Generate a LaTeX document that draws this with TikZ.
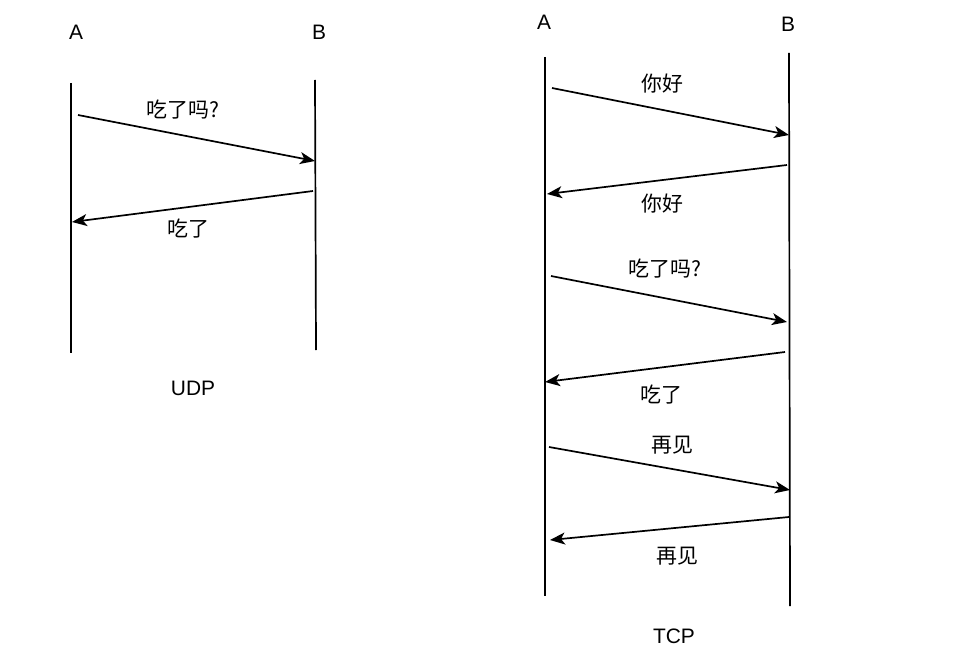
\documentclass[tikz,border=0pt]{standalone}
\usepackage{fontspec}
\setmainfont{Liberation Sans}
\newfontfamily\cjk{Noto Sans CJK SC}
\usetikzlibrary{arrows.meta}
\begin{document}
\begin{tikzpicture}[x=1bp,y=-1bp,
  life/.style={line width=1.7bp},
  msg/.style={line width=1.7bp,-{Stealth[length=15bp,width=12bp,inset=4bp]}},
  lbl/.style={inner sep=0pt,font=\fontsize{21}{24}\selectfont},
  clbl/.style={inner sep=0pt,font=\cjk\fontsize{21}{24}\selectfont}]
\useasboundingbox (0,0) rectangle (970,663);
% UDP
\node[lbl] (ua) at (76,32) {A};
\node[lbl] (ub) at (319,32) {B};
\coordinate (uat) at (71,83); \coordinate (uab) at (71,353);
\coordinate (ubt) at (315,80); \coordinate (ubb) at (316,350);
\draw[life] (uat) -- (uab);
\draw[life] (ubt) -- (ubb);
\coordinate (u1s) at (78,115); \coordinate (u1e) at (315,161);
\coordinate (u2s) at (313,191); \coordinate (u2e) at (72,222);
\draw[msg] (u1s) -- (u1e);
\draw[msg] (u2s) -- (u2e);
\node[clbl] (ul1) at (183,110) {吃了吗?};
\node[clbl] (ul2) at (188,229) {吃了};
\node[lbl] (udp) at (193,388) {UDP};
% TCP
\node[lbl] (ta) at (544,22) {A};
\node[lbl] (tb) at (788,24) {B};
\coordinate (tat) at (545,57); \coordinate (tab) at (545,596);
\coordinate (tbt) at (789,53); \coordinate (tbb) at (790,606);
\draw[life] (tat) -- (tab);
\draw[life] (tbt) -- (tbb);
\coordinate (t1s) at (552,88);  \coordinate (t1e) at (789,135);
\coordinate (t2s) at (787,165); \coordinate (t2e) at (547,194);
\coordinate (t3s) at (551,276); \coordinate (t3e) at (787,322);
\coordinate (t4s) at (785,352); \coordinate (t4e) at (545,382);
\coordinate (t5s) at (549,447); \coordinate (t5e) at (790,490);
\coordinate (t6s) at (789,517); \coordinate (t6e) at (550,540);
\draw[msg] (t1s) -- (t1e);
\draw[msg] (t2s) -- (t2e);
\draw[msg] (t3s) -- (t3e);
\draw[msg] (t4s) -- (t4e);
\draw[msg] (t5s) -- (t5e);
\draw[msg] (t6s) -- (t6e);
\node[clbl] (tl1) at (662,84) {你好};
\node[clbl] (tl2) at (662,204) {你好};
\node[clbl] (tl3) at (665,269) {吃了吗?};
\node[clbl] (tl4) at (661,395) {吃了};
\node[clbl] (tl5) at (672,445) {再见};
\node[clbl] (tl6) at (677,556) {再见};
\node[lbl] (tcp) at (674,636) {TCP};
\end{tikzpicture}
\end{document}
